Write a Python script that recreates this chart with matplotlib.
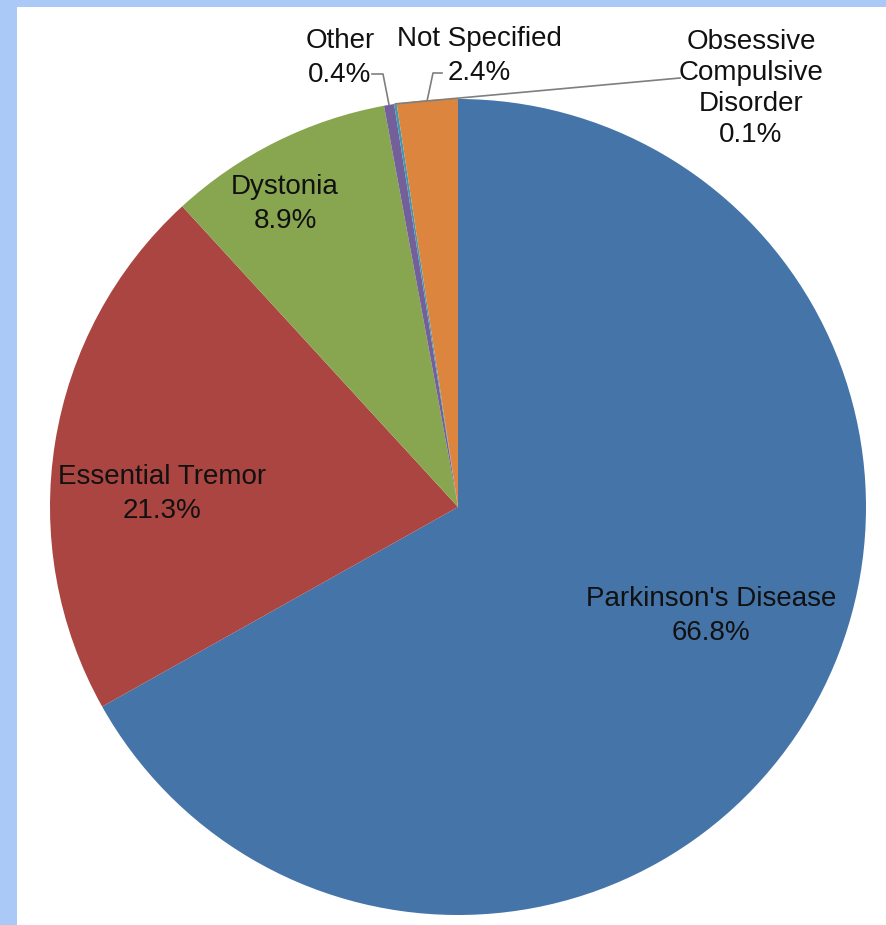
import numpy as np
import matplotlib
matplotlib.use("Agg")
import matplotlib.pyplot as plt
from matplotlib.patches import Rectangle

# Share of procedures by indication (clockwise from 12 o'clock)
categories = ["Parkinson's Disease", "Essential Tremor", "Dystonia", "Other",
              "Obsessive\nCompulsive\nDisorder", "Not Specified"]
shares = [66.8, 21.3, 8.9, 0.4, 0.1, 2.4]
colors = ["#4574a9", "#aa4541", "#88a550", "#73609a", "#4198af", "#dc853f"]

W, H = 887, 925
plt.rcParams['font.family'] = ['Liberation Sans', 'DejaVu Sans']

fig = plt.figure(figsize=(W / 100, H / 100), dpi=100)
fig.patch.set_facecolor("#aac9f6")

ax = fig.add_axes([0, 0, 1, 1])
ax.set_facecolor("none")

# white panel inside the blue frame
ax.add_patch(Rectangle((17, 0), W - 17, H - 7, facecolor="white",
                       edgecolor="none", zorder=0))

cx, cy, R = 458, H - 507, 408
wedges, _ = ax.pie(shares, colors=colors, startangle=90, counterclock=False,
                   center=(cx, cy), radius=R,
                   wedgeprops=dict(linewidth=0, zorder=1))
ax.set_xlim(0, W)
ax.set_ylim(0, H)
ax.set_aspect("equal")
ax.axis("off")

def lbl(i):
    return f"{categories[i]}\n{shares[i]:.1f}%"

fs = 20
ls = 1.36
txt = dict(ha="center", va="center", fontsize=fs, zorder=3, color="#111111")
# labels inside the large wedges
ax.text(711, H - 616, lbl(0), linespacing=ls, **txt)
ax.text(162, H - 494, lbl(1), linespacing=ls, **txt)
ax.text(285, H - 204, lbl(2), linespacing=ls, **txt)
# labels outside the small wedges
ax.text(340, H - 58, lbl(3), linespacing=ls, **txt)
ax.text(479, H - 56, lbl(5), linespacing=ls, **txt)
ax.text(751, H - 88, lbl(4), linespacing=1.25, **txt)

def edge_point(i, frac=0.5):
    w = wedges[i]
    a = np.deg2rad(w.theta1 + frac * (w.theta2 - w.theta1))
    return cx + R * np.cos(a), cy + R * np.sin(a)

lc = "#7f7f7f"
# Other
ex, ey = edge_point(3)
ax.plot([372, 383, ex], [H - 74, H - 74, ey], color=lc, lw=1.2, zorder=2)
# Not Specified
ex, ey = edge_point(5)
ax.plot([442, 433, ex], [H - 73, H - 73, ey], color=lc, lw=1.2, zorder=2)
# Obsessive Compulsive Disorder
ex, ey = edge_point(4)
ax.plot([680, ex], [H - 78, ey], color=lc, lw=1.2, zorder=2)

fig.savefig("out.png", dpi=100, facecolor=fig.get_facecolor())
